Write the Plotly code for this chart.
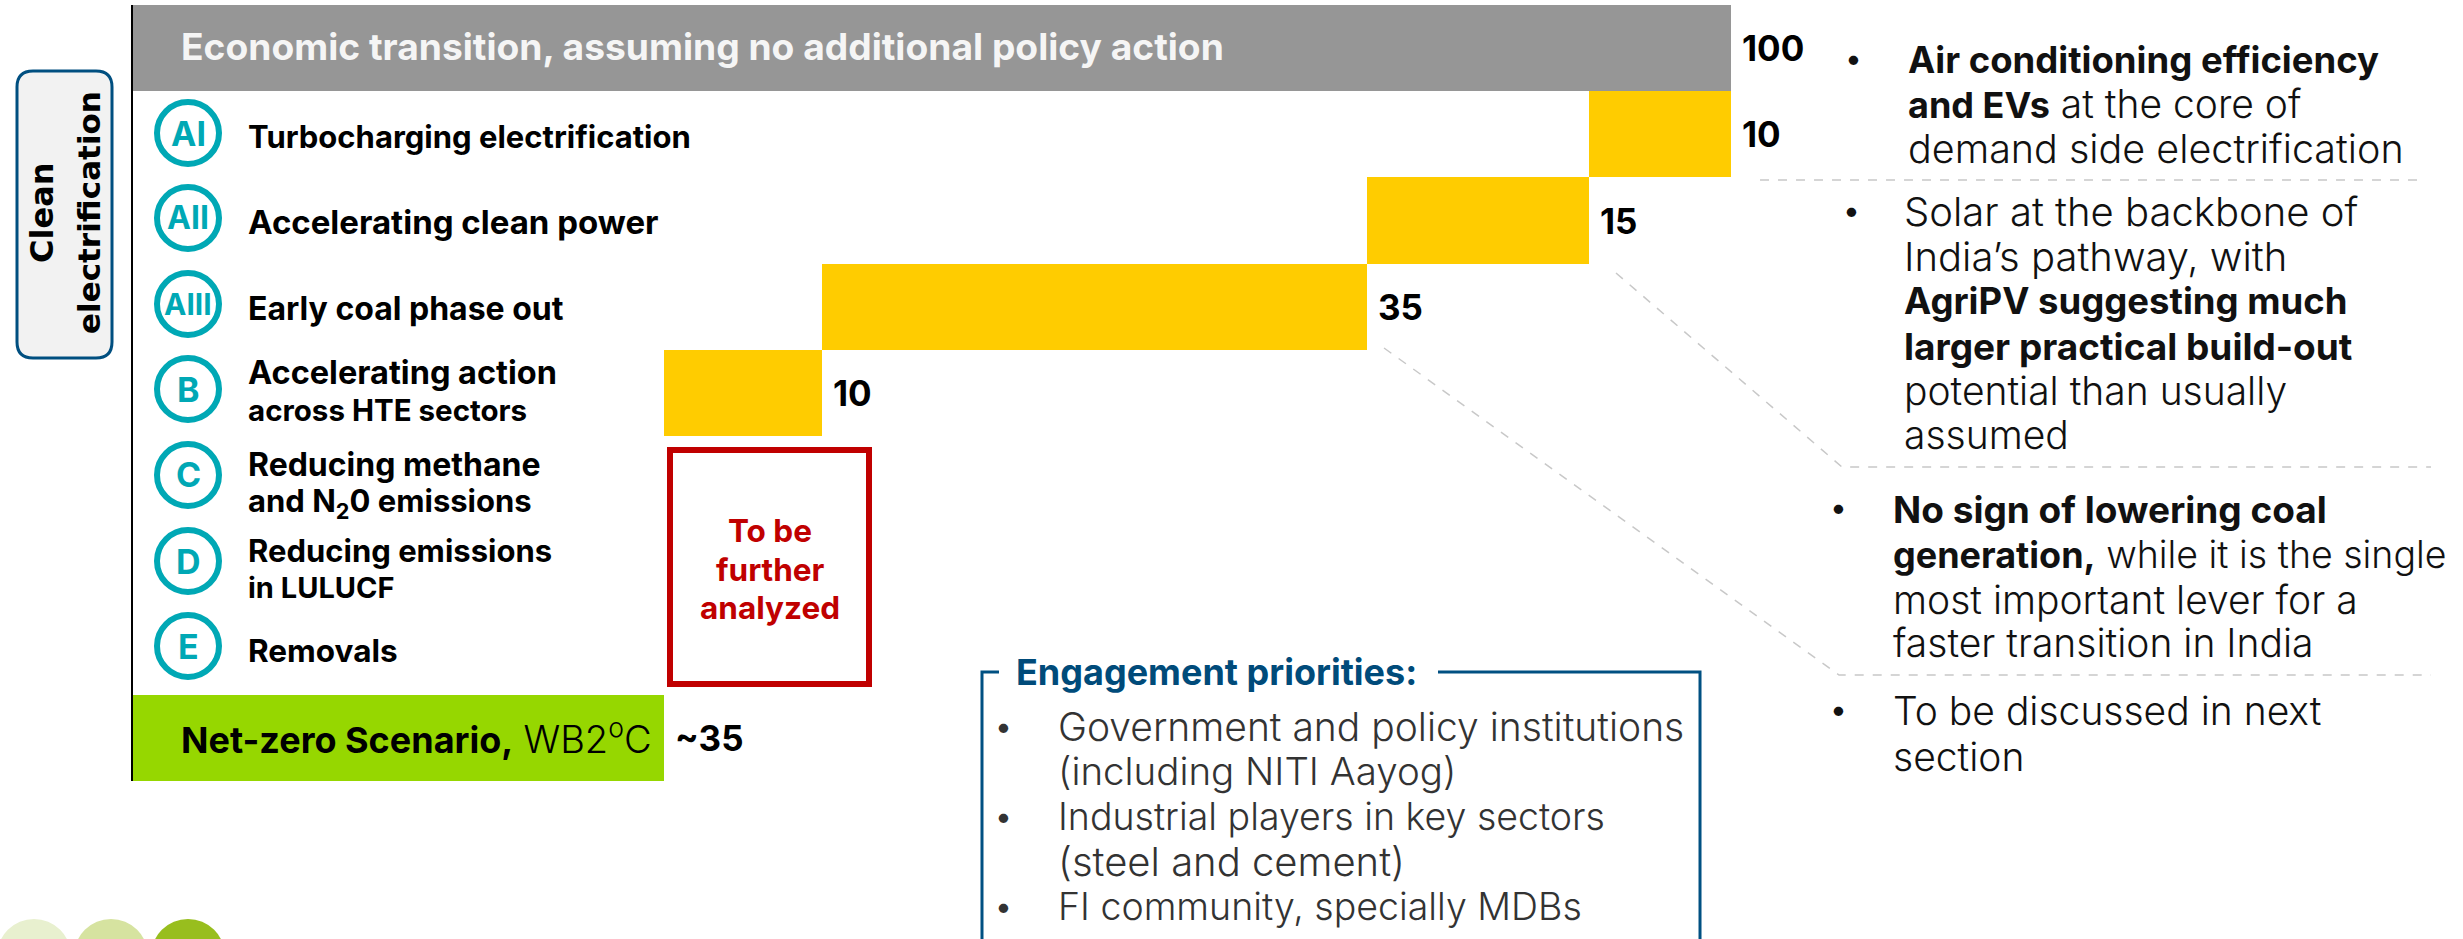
import plotly.graph_objects as go

W, H = 2463, 939
FONT = "Inter"

# ---- data ----
rows = ["Economic", "AI", "AII", "AIII", "B", "C", "D", "E", "NetZero"]
bar_rows = ["Economic", "AI", "AII", "AIII", "B", "NetZero"]
bar_start = [0.0, 91.1, 77.2, 43.1, 33.2, 0.0]
bar_width = [100.0, 8.9, 13.9, 34.1, 9.9, 33.2]
bar_colors = ["#969696", "#FFCC00", "#FFCC00", "#FFCC00", "#FFCC00", "#96D700"]
value_labels = ["100", "10", "15", "35", "10", "~35"]

badge_labels = ["AI", "AII", "AIII", "B", "C", "D", "E"]
badge_sizes = [34, 32, 30, 34, 34, 34, 34]
badge_y = [133, 218, 304, 389, 475, 561, 646]
row_labels = [
    ["Turbocharging electrification"],
    ["Accelerating clean power"],
    ["Early coal phase out"],
    ["Accelerating action", "across HTE sectors"],
    ["Reducing methane", "and N<sub>2</sub>0 emissions"],
    ["Reducing emissions", "in LULUCF"],
    ["Removals"],
]
row_label_y = [[137], [222], [309], [372, 410], [464, 503], [550, 587], [650]]
row_label_size = [[31], [33], [32], [32.5, 29.5], [32, 31], [31, 29], [31.5]]

red_lines = ["To be", "further", "analyzed"]
red_y = [530, 569, 607]

eng_title = "Engagement priorities:"
eng_lines = ["Government and policy institutions", "(including NITI Aayog)",
             "Industrial players in key sectors", "(steel and cement)",
             "FI community, specially MDBs"]
eng_y = [726, 771, 816, 861, 906]
eng_size = [39, 38.5, 37.5, 40, 37.5]
eng_bullets = [726, 816, 906]

BOLD = "<span style='font-weight:700;font-size:36px'>"
END = "</span>"
notes = [
    (1908, "Air conditioning efficiency", 60, 36.5, True),
    (1908, BOLD + "and EVs" + END + " at the core of", 104, 39, False),
    (1908, "demand side electrification", 149, 39.5, False),
    (1904, "Solar at the backbone of", 211, 40, False),
    (1904, "India’s pathway, with", 256, 40, False),
    (1904, "AgriPV suggesting much", 301, 36.5, True),
    (1904, "larger practical build-out", 346, 37, True),
    (1904, "potential than usually", 390, 39, False),
    (1904, "assumed", 434, 39, False),
    (1893, "No sign of lowering coal", 509, 37, True),
    (1893, BOLD + "generation," + END + " while it is the single", 554, 37.5, False),
    (1893, "most important lever for a", 599, 39, False),
    (1893, "faster transition in India", 642, 39, False),
    (1893, "To be discussed in next", 710, 39, False),
    (1893, "section", 756, 39, False),
]
note_bullets = [(1853, 58), (1851, 210), (1838, 507), (1838, 709)]


def px(x):
    return x / W


def py(y):
    return 1 - y / H


fig = go.Figure()
fig.add_trace(go.Bar(
    y=bar_rows, x=bar_width, base=bar_start, orientation="h", width=1,
    marker=dict(color=bar_colors, line=dict(width=0)), hoverinfo="skip", showlegend=False))

shapes, ann = [], []


def text(x, y, s, size, color="#000", anchor="left", bold=False, weight=None, angle=0, font=FONT):
    ann.append(dict(xref="paper", yref="paper", x=px(x), y=py(y), text=s, showarrow=False,
                    xanchor=anchor, yanchor="middle", align=anchor, textangle=angle,
                    font=dict(family=font, size=size, color=color,
                              weight=(700 if bold else (weight or 400))),
                    borderpad=0, borderwidth=0))


def rect(x0, y0, x1, y1, line=None, width=0, fill=None, kind="rect"):
    shapes.append(dict(type=kind, xref="paper", yref="paper", x0=px(x0), x1=px(x1), y0=py(y0), y1=py(y1),
                       line=dict(color=line or "rgba(0,0,0,0)", width=width), fillcolor=fill or "rgba(0,0,0,0)"))


def poly(points, color, width, dash=None):
    d = "M" + " L".join(f"{px(x):.5f},{py(y):.5f}" for x, y in points)
    shapes.append(dict(type="path", xref="paper", yref="paper", path=d,
                       line=dict(color=color, width=width, dash=dash)))


# left callout with rounded corners
x0, x1, y0, y1, r = 17, 112, 71, 358, 16
d = (f"M{px(x0+r)},{py(y0)} L{px(x1-r)},{py(y0)} Q{px(x1)},{py(y0)} {px(x1)},{py(y0+r)} "
     f"L{px(x1)},{py(y1-r)} Q{px(x1)},{py(y1)} {px(x1-r)},{py(y1)} L{px(x0+r)},{py(y1)} "
     f"Q{px(x0)},{py(y1)} {px(x0)},{py(y1-r)} L{px(x0)},{py(y0+r)} Q{px(x0)},{py(y0)} {px(x0+r)},{py(y0)} Z")
shapes.append(dict(type="path", xref="paper", yref="paper", path=d,
                   line=dict(color="#004F80", width=3), fillcolor="#F2F2F2"))
text(42, 213, "Clean", 32, anchor="center", bold=True, angle=-90, font="DejaVu Sans")
text(89, 213, "electrification", 31, anchor="center", bold=True, angle=-90, font="DejaVu Sans")

# headline texts in bars
text(181, 46, "Economic transition, assuming no additional policy action", 37.2, "#F5F5F5", bold=True)
text(181, 736, "<b>Net-zero Scenario,</b> <span style='font-weight:300;font-size:38px'>WB2<sup>o</sup>C</span>", 36)

# value labels
for r_, s, st, w_ in zip(bar_rows, value_labels, bar_start, bar_width):
    ann.append(dict(xref="x", yref="y", x=st + w_, y=r_, text=s, showarrow=False, xanchor="left",
                    xshift=9, font=dict(family=FONT, size=35, color="#000", weight=700)))

# badges and row labels
for lab, sz, cy, lines, ys, sizes in zip(badge_labels, badge_sizes, badge_y, row_labels, row_label_y, row_label_size):
    rect(188 - 31, cy - 31, 188 + 31, cy + 31, line="#00A8B5", width=6, fill="#FFFFFF", kind="circle")
    text(188, cy, lab, sz, "#00A8B5", "center", bold=True)
    for s, y, fs in zip(lines, ys, sizes):
        text(248, y, s, fs, bold=True)

# red box
rect(670, 450, 869, 684, line="#C00000", width=6)
for s, y in zip(red_lines, red_y):
    text(770, y, s, 31.5, "#C00000", "center", bold=True)

# engagement box
poly([(999, 672), (982, 672), (982, 950)], "#005082", 3)
poly([(1438, 672), (1700, 672), (1700, 950)], "#005082", 3)
text(1016, 672, eng_title, 36, "#004B7A", bold=True)
for s, y, fs in zip(eng_lines, eng_y, eng_size):
    text(1058, y, s, fs, "#333333", weight=300)
for y in eng_bullets:
    text(1003, y, "•", 30, "#333333", "center")

# right hand notes
for x, s, y, fs, b in notes:
    text(x, y, s, fs, "#111111", bold=b, weight=300)
for x, y in note_bullets:
    text(x, y, "•", 30, "#111111", "center")

# dashed leaders
poly([(1760, 180), (2426, 180)], "#C8C8C8", 1.5, "dash")
poly([(1616, 273), (1842, 467), (2431, 467)], "#C8C8C8", 1.5, "dash")
poly([(1384, 348), (1839, 675), (2431, 675)], "#C8C8C8", 1.5, "dash")

# decorative circles bottom left
for cx, c in zip([34, 111, 188], ["#E8F0CF", "#D6E3A0", "#98BE1E"]):
    rect(cx - 37, 919, cx + 37, 993, fill=c, kind="circle")

fig.update_layout(
    width=W, height=H, autosize=False, margin=dict(l=0, r=0, t=0, b=0, pad=0),
    paper_bgcolor="white", plot_bgcolor="white", showlegend=False, bargap=0,
    shapes=shapes, annotations=ann,
    xaxis=dict(domain=[px(133), px(1731)], range=[0, 100], visible=False, fixedrange=True),
    yaxis=dict(domain=[py(781), py(5)], type="category", categoryorder="array", categoryarray=rows,
               autorange=False, range=[8.5, -0.5], showline=True, linecolor="#000", linewidth=2,
               showticklabels=False, ticks="", showgrid=False, zeroline=False, fixedrange=True),
)
fig.write_html("out.html", config=dict(displayModeBar=False),
               post_script="document.body.style.margin='0';document.body.style.overflow='hidden';")
